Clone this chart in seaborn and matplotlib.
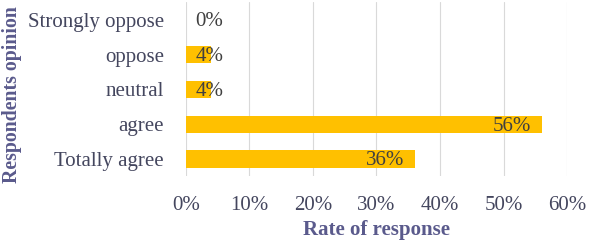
import matplotlib
matplotlib.use("Agg")
import matplotlib.pyplot as plt
import seaborn as sns
import pandas as pd
from matplotlib.ticker import PercentFormatter

categories = ["Strongly oppose", "oppose", "neutral", "agree", "Totally agree"]
values = [0, 4, 4, 56, 36]
x_ticks = [0, 10, 20, 30, 40, 50, 60]

sns.set_style("white")
plt.rcParams['font.family'] = ['Liberation Serif', 'DejaVu Serif']

df = pd.DataFrame({"opinion": categories, "rate": values})

fig = plt.figure(figsize=(5.91, 2.45), dpi=100)
ax = fig.add_axes([0.3147, 0.2796, 0.6447, 0.7104])

sns.barplot(data=df, y="opinion", x="rate", orient="h", ax=ax,
            color="#FFC000", width=0.5, linewidth=0,
            saturation=1, zorder=3)

ax.set_xlim(0, 60)
ax.set_xticks(x_ticks)
ax.xaxis.set_major_formatter(PercentFormatter(decimals=0))
ax.grid(axis="x", color="#D9D9D9", linewidth=0.8, zorder=0)
ax.set_axisbelow(True)
for s in ax.spines.values():
    s.set_visible(False)

txt_color = "#44465E"
ax.tick_params(axis="both", length=0, labelsize=15, labelcolor=txt_color)
ax.tick_params(axis="x", pad=14)
ax.tick_params(axis="y", pad=16)

title_color = "#5A5A8C"
ax.set_xlabel("Rate of response", fontsize=15, fontweight="bold", color=title_color, labelpad=4)
ax.set_ylabel("")
fig.text(0.021, 0.614, "Respondents opinion", rotation=90, ha="center", va="center",
         fontsize=14.2, fontweight="bold", color=title_color)

for i, v in enumerate(values):
    if v >= 10:
        ax.text(v - 1.6, i + 0.05, f"{v}%", ha="right", va="center", fontsize=15, color="#404040", zorder=5)
    else:
        ax.text(1.5, i + 0.05, f"{v}%", ha="left", va="center", fontsize=15, color="#404040", zorder=5)

fig.savefig("out.png", dpi=100)
